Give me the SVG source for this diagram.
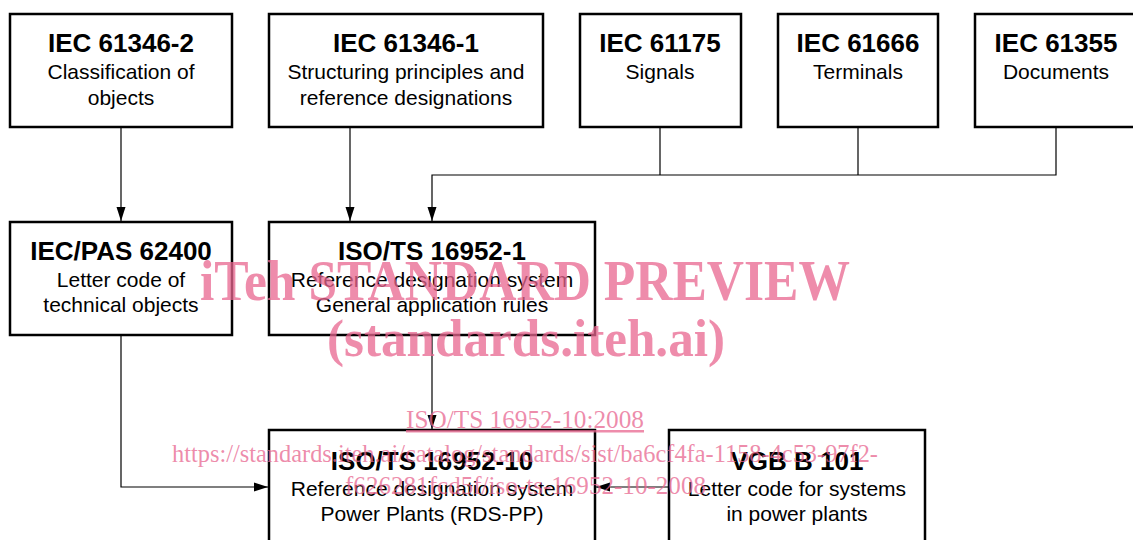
<svg xmlns="http://www.w3.org/2000/svg" width="1133" height="540" viewBox="0 0 1133 540">
<defs>
<marker id="arr" markerWidth="14" markerHeight="10" refX="14" refY="5" orient="auto" markerUnits="userSpaceOnUse">
<path d="M0,0.5 L14,5 L0,9.5 Z" fill="#000"/>
</marker>
<style>
.box{fill:#fff;stroke:#000;stroke-width:2.5}
.t{font-family:"Liberation Sans",Arial,sans-serif;font-weight:bold;font-size:26px;text-anchor:middle;fill:#000}
.s{font-family:"Liberation Sans",Arial,sans-serif;font-size:21px;text-anchor:middle;fill:#000}
.c{fill:none;stroke:#000;stroke-width:1.2}
.w{font-family:"Liberation Serif","Times New Roman",serif;fill:#e8668f;fill-opacity:0.75}
</style>
</defs>
<rect width="1133" height="540" fill="#fff"/>
<g id="connectors">
<path class="c" d="M121,127 V221" marker-end="url(#arr)"/>
<path class="c" d="M350,127 V221" marker-end="url(#arr)"/>
<path class="c" d="M660,127 V175 M858,127 V175 M1056,127 V175 H432 V221" marker-end="url(#arr)"/>
<path class="c" d="M121,335 V487 H268" marker-end="url(#arr)"/>
<path class="c" d="M432,335 V429" marker-end="url(#arr)"/>
<path class="c" d="M669,487 H596" marker-end="url(#arr)"/>
</g>
<g id="iec61346-2"><rect class="box" x="10" y="14" width="222" height="113"/><text class="t" x="121" y="52">IEC 61346-2</text><text class="s" x="121" y="79">Classification of</text><text class="s" x="121" y="105">objects</text></g>
<g id="iec61346-1"><rect class="box" x="269" y="14" width="274" height="113"/><text class="t" x="406" y="52">IEC 61346-1</text><text class="s" x="406" y="79">Structuring principles and</text><text class="s" x="406" y="105">reference designations</text></g>
<g id="iec61175"><rect class="box" x="580" y="14" width="161" height="113"/><text class="t" x="660" y="52">IEC 61175</text><text class="s" x="660" y="79">Signals</text></g>
<g id="iec61666"><rect class="box" x="778" y="14" width="160" height="113"/><text class="t" x="858" y="52">IEC 61666</text><text class="s" x="858" y="79">Terminals</text></g>
<g id="iec61355"><rect class="box" x="975" y="14" width="170" height="113"/><text class="t" x="1056" y="52">IEC 61355</text><text class="s" x="1056" y="79">Documents</text></g>
<g id="iecpas62400"><rect class="box" x="10" y="222" width="222" height="113"/><text class="t" x="121" y="260">IEC/PAS 62400</text><text class="s" x="121" y="287">Letter code of</text><text class="s" x="121" y="312">technical objects</text></g>
<g id="isots16952-1"><rect class="box" x="269" y="222" width="326" height="113"/><text class="t" x="432" y="260">ISO/TS 16952-1</text><text class="s" x="432" y="287">Reference designation system</text><text class="s" x="432" y="312">General application rules</text></g>
<g id="isots16952-10"><rect class="box" x="269" y="430" width="326" height="120"/><text class="t" x="432" y="470">ISO/TS 16952-10</text><text class="s" x="432" y="496">Reference designation system</text><text class="s" x="432" y="521">Power Plants (RDS-PP)</text></g>
<g id="vgbb101"><rect class="box" x="669" y="430" width="256" height="120"/><text class="t" x="797" y="470">VGB B 101</text><text class="s" x="797" y="496">Letter code for systems</text><text class="s" x="797" y="521">in power plants</text></g>
<g id="watermark">
<text class="w" x="200" y="300" font-size="56" font-weight="bold" textLength="650" lengthAdjust="spacingAndGlyphs">iTeh STANDARD PREVIEW</text>
<text class="w" x="327" y="356" font-size="52" font-weight="bold" textLength="398" lengthAdjust="spacingAndGlyphs">(standards.iteh.ai)</text>
<text class="w" x="406" y="428" font-size="25" textLength="238" lengthAdjust="spacingAndGlyphs" text-decoration="underline">ISO/TS 16952-10:2008</text>
<text class="w" x="172" y="462" font-size="25" textLength="706" lengthAdjust="spacingAndGlyphs">https://standards.iteh.ai/catalog/standards/sist/ba6cf4fa-1158-4c53-97f2-</text>
<text class="w" x="345" y="494" font-size="25" textLength="361" lengthAdjust="spacingAndGlyphs">f626281fcd5f/iso-ts-16952-10-2008</text>
</g>
</svg>
